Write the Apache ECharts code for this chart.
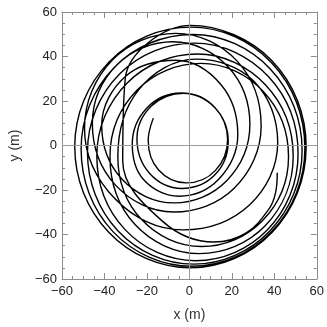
<!DOCTYPE html>
<html>
<head>
<meta charset="utf-8">
<script src="https://cdn.jsdelivr.net/npm/echarts@6/dist/echarts.min.js"></script>
<style>
  html, body { margin: 0; padding: 0; background: #fff; }
  #chart { width: 327px; height: 327px; }
</style>
</head>
<body>
<div id="chart"></div>
<script>
// axis ticks (m)
const xTicks = [-60, -40, -20, 0, 20, 40, 60];
const yTicks = [-60, -40, -20, 0, 20, 40, 60];

// trajectory, one turn at a time (x, y in m)
const turn01 = [[-17.0, 12.3], [-19.4, 2.4], [-14.5, -11.0], [-1.4, -16.8], [12.2, -11.3], [18.0, 2.7], [12.0, 17.1], [-2.7, 23.5], [-17.9, 17.7]];
const turn02 = [[-24.7, 3.0], [-18.7, -12.6], [-3.6, -19.3], [11.8, -13.4], [18.3, 1.8], [11.8, 17.2], [-4.0, 23.6], [-20.0, 16.9]];
const turn03 = [[-26.9, 0.7], [-21.6, -15.3], [-4.9, -22.8], [13.8, -15.2], [22.8, 4.9], [15.1, 27.1], [-6.4, 38.3], [-29.9, 31.2]];
const turn04 = [[-41.3, 9.2], [-31.7, -15.2], [-7.3, -25.8], [17.7, -15.7], [28.5, 9.5], [18.2, 35.4], [-7.7, 46.6], [-34.2, 36.2]];
const turn05 = [[-45.7, 9.9], [-34.9, -17.7], [-7.4, -29.9], [21.1, -19.2], [33.8, 8.8], [22.6, 37.8], [-6.4, 50.4], [-36.4, 38.3]];
const turn06 = [[-49.4, 7.8], [-34.8, -24.2], [-3.0, -37.9], [28.3, -26.7], [41.6, 1.4], [30.5, 28.8], [3.0, 38.8], [-23.9, 25.0]];
const turn07 = [[-33.7, -5.0], [-22.5, -33.3], [5.7, -45.4], [34.4, -33.8], [46.7, -5.0], [34.8, 24.3], [5.4, 36.9], [-24.6, 24.9]];
const turn08 = [[-37.4, -5.0], [-25.6, -35.5], [4.7, -48.6], [35.7, -36.1], [48.9, -4.8], [35.9, 27.2], [3.7, 41.1], [-29.3, 28.1]];
const turn09 = [[-43.6, -4.6], [-30.3, -37.8], [2.9, -51.8], [36.8, -37.9], [51.2, -3.7], [37.1, 31.1], [2.4, 46.0], [-32.9, 32.1]];
const turn10 = [[-48.0, -2.9], [-33.6, -38.4], [2.0, -53.3], [37.9, -38.4], [53.1, -2.2], [38.1, 34.4], [1.6, 49.9], [-35.4, 35.1]];
const turn11 = [[-51.0, -1.6], [-36.0, -38.7], [1.2, -54.3], [38.7, -38.8], [54.4, -1.1], [38.8, 37.1], [0.7, 53.2], [-37.7, 37.7]];
const turn12 = [[-54.0, -0.5], [-38.0, -39.0], [0.5, -55.0], [39.0, -39.0], [55.0, -0.5], [39.0, 38.0], [0.5, 54.0]];
const turn13 = [[-30.2, 30.2], [-31.4, -7.0], [-12.6, -34.1], [11.6, -43.4], [26.6, -39.4], [37.6, -28.4], [40.6, -21.2], [41.4, -12.3]];

const path = [].concat(turn01, turn02, turn03, turn04, turn05, turn06, turn07,
  turn08, turn09, turn10, turn11, turn12, turn13);

const frameColor = '#8c8c8c';
const labelFont = { fontFamily: 'Liberation Sans', fontSize: 13, color: '#222' };

function fmt(v) {
  return String(v).replace('-', '\u2212');
}

function frameAxis(extra) {
  return Object.assign({
    type: 'value',
    min: -60,
    max: 60,
    interval: 20,
    axisLine: { show: true, onZero: false, lineStyle: { color: frameColor, width: 1 } },
    axisTick: { show: true, inside: true, length: 6, lineStyle: { color: frameColor, width: 1 } },
    minorTick: { show: true, splitNumber: 4, length: 3, lineStyle: { color: frameColor, width: 1 } },
    splitLine: { show: false },
    minorSplitLine: { show: false }
  }, extra);
}

let myChart = echarts.init(document.getElementById('chart'), null, { renderer: 'canvas' });

let option = {
  animation: false,
  backgroundColor: '#fff',
  grid: { left: 52, right: 9, top: 12, bottom: 48 },
  xAxis: [
    frameAxis({
      position: 'bottom',
      name: 'x (m)',
      nameLocation: 'middle',
      nameGap: 29,
      nameTextStyle: { fontFamily: 'Liberation Sans', fontSize: 14, color: '#333' },
      axisLabel: Object.assign({ margin: 6, formatter: v => xTicks.includes(v) ? fmt(v) : '' }, labelFont)
    }),
    frameAxis({ position: 'top', axisLabel: { show: false } })
  ],
  yAxis: [
    frameAxis({
      position: 'left',
      name: 'y (m)',
      nameLocation: 'middle',
      nameGap: 40,
      nameTextStyle: { fontFamily: 'Liberation Sans', fontSize: 14, color: '#333' },
      axisLabel: Object.assign({ margin: 5, formatter: v => yTicks.includes(v) ? fmt(v) : '' }, labelFont)
    }),
    frameAxis({ position: 'right', axisLabel: { show: false } })
  ],
  series: [
    {
      // axes through the origin
      type: 'line',
      data: [],
      z: 1,
      markLine: {
        silent: true,
        symbol: 'none',
        label: { show: false },
        lineStyle: { color: '#9a9a9a', width: 1, type: 'solid' },
        data: [{ xAxis: 0 }, { yAxis: 0 }]
      }
    },
    {
      type: 'line',
      data: path,
      z: 3,
      smooth: 0.375,
      showSymbol: false,
      symbol: 'none',
      lineStyle: { color: '#000', width: 1.4 }
    }
  ]
};

myChart.setOption(option);
</script>
</body>
</html>
